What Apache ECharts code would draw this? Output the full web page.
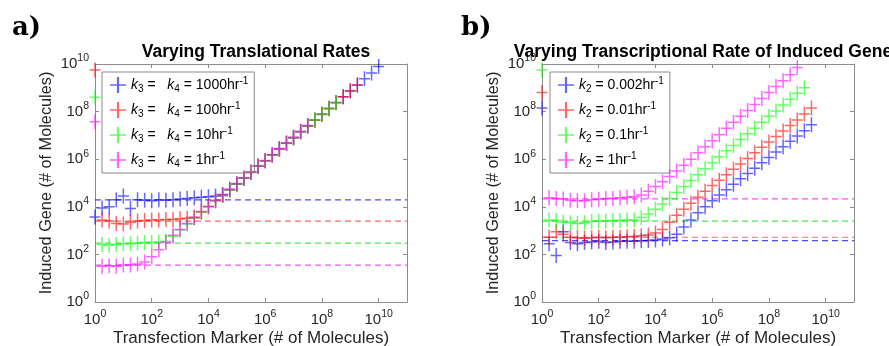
<!DOCTYPE html>
<html>
<head>
<meta charset="utf-8">
<script src="https://cdn.jsdelivr.net/npm/echarts@6/dist/echarts.min.js"></script>
<style>
  html, body { margin: 0; padding: 0; background: #fff; }
  #chart { width: 889px; height: 346px; }
</style>
</head>
<body>
<div id="chart"></div>
<script>
// x bins, log10 of transfection marker (0.25 decade steps)
const xExp = [0, 0.25, 0.5, 0.75, 1, 1.25, 1.5, 1.75, 2, 2.25, 2.5, 2.75, 3, 3.25, 3.5, 3.75, 4, 4.25, 4.5, 4.75,
  5, 5.25, 5.5, 5.75, 6, 6.25, 6.5, 6.75, 7, 7.25, 7.5, 7.75, 8, 8.25, 8.5, 8.75, 9, 9.25, 9.5, 9.75, 10, 10.25]

// panel a) log10 of induced gene, one value per x bin
const aBlue = [3.57, 3.95, 4.0, 4.3, 4.45, 3.93, 4.3, 4.28, 4.25, 4.3, 4.28, 4.3, 4.33, 4.35, 4.38, 4.4, 4.42, 4.45, 4.52, 4.72,
  4.95, 5.2, 5.45, 5.7, 5.94, 6.18, 6.43, 6.67, 6.9, 7.15, 7.4, 7.65, 7.9, 8.14, 8.38, 8.62, 8.87, 9.12, 9.38, 9.62, 9.9]
const aRed = [9.75, 3.45, 3.4, 3.3, 3.28, 3.35, 3.4, 3.42, 3.45, 3.45, 3.47, 3.47, 3.5, 3.52, 3.56, 3.78, 4.0, 4.25, 4.48, 4.72,
  4.96, 5.2, 5.45, 5.7, 5.94, 6.18, 6.42, 6.67, 6.9, 7.15, 7.4, 7.64, 7.88, 8.12, 8.37, 8.62, 8.88, 9.12]
const aGreen = [8.6, 2.42, 2.38, 2.42, 2.45, 2.45, 2.48, 2.5, 2.5, 2.52, 2.55, 2.75, 3.02, 3.28, 3.52, 3.78, 4.0, 4.25, 4.48, 4.72,
  4.95, 5.2, 5.45, 5.7, 5.93, 6.18, 6.42, 6.66, 6.9, 7.15, 7.4, 7.65, 7.88, 8.12, 8.38]
const aMagenta = [7.57, 1.5, 1.52, 1.5, 1.55, 1.55, 1.6, 1.68, 1.9, 2.2, 2.5, 2.8, 3.05, 3.3, 3.55, 3.8, 4.02, 4.27, 4.5, 4.75,
  4.98, 5.22, 5.47, 5.72, 5.95, 6.2, 6.45, 6.68, 6.93, 7.17, 7.42]
const aBase = [4.29, 3.4, 2.47, 1.55]   // dashed levels, log10

// panel b)
const bBlue = [8.15, 2.45, 1.95, 2.95, 2.5, 2.45, 2.5, 2.52, 2.55, 2.5, 2.52, 2.55, 2.55, 2.55, 2.57, 2.58, 2.6, 2.65, 2.7, 2.85,
  3.15, 3.45, 3.75, 4.0, 4.25, 4.5, 4.72, 4.95, 5.18, 5.4, 5.62, 5.85, 6.07, 6.3, 6.52, 6.75, 6.97, 7.2, 7.45]
const bRed = [8.8, 2.72, 2.95, 2.85, 2.72, 2.7, 2.68, 2.7, 2.72, 2.7, 2.72, 2.72, 2.74, 2.75, 2.78, 2.82, 2.9, 3.05, 3.35, 3.65,
  3.9, 4.15, 4.4, 4.65, 4.9, 5.12, 5.35, 5.58, 5.8, 6.03, 6.27, 6.5, 6.72, 6.95, 7.18, 7.42, 7.65, 7.9, 8.15]
const bGreen = [9.75, 3.45, 3.42, 3.35, 3.33, 3.3, 3.33, 3.38, 3.4, 3.4, 3.42, 3.42, 3.45, 3.45, 3.55, 3.7, 3.9, 4.12, 4.35, 4.6,
  4.85, 5.1, 5.35, 5.6, 5.85, 6.1, 6.35, 6.58, 6.83, 7.07, 7.3, 7.55, 7.8, 8.03, 8.28, 8.52, 8.77, 9.0]
const bMagenta = [null, 4.38, 4.35, 4.33, 4.28, 4.25, 4.25, 4.3, 4.32, 4.35, 4.35, 4.38, 4.4, 4.42, 4.5, 4.65, 4.85, 5.05, 5.27, 5.5,
  5.75, 6.0, 6.27, 6.52, 6.78, 7.03, 7.3, 7.55, 7.8, 8.05, 8.3, 8.55, 8.8, 9.05, 9.3, 9.55, 9.85]
const bBase = [2.58, 2.72, 3.4, 4.33]

const namesA = ['k3 = k4 = 1000hr-1', 'k3 = k4 = 100hr-1', 'k3 = k4 = 10hr-1', 'k3 = k4 = 1hr-1']
const namesB = ['k2 = 0.002hr-1', 'k2 = 0.01hr-1', 'k2 = 0.1hr-1', 'k2 = 1hr-1']
const richA = ['1000', '100', '10', '1'].map(r => '{i|k}{sb|3} =   {i|k}{sb|4} = ' + r + 'hr{sp|-1}')
const richB = ['0.002', '0.01', '0.1', '1'].map(r => '{i|k}{sb|2} = ' + r + 'hr{sp|-1}')

const colors = ['#0000ff', '#ff0000', '#00ff00', '#ff00ff']
const dashColors = ['rgba(0,0,255,0.7)', 'rgba(255,0,0,0.6)', 'rgba(0,220,0,0.7)', 'rgba(255,0,255,0.7)']
const plus = 'path://M0,4.5h10v1h-10z M4.32,0h1.36v10h-1.36z'
const font = '"Liberation Sans", Arial, sans-serif'
const axisGray = '#8c8c8c'

let chartInstance = echarts.init(document.getElementById('chart'))

const toPts = (ys) => ys.map((y, i) => y == null ? null : [xExp[i], y]).filter(p => p)

const powLabel = (v, maxV) => v === maxV ? '' : '{b|10}{p|' + v + '}'
const labelRich = {
    b: { fontSize: 15, color: '#262626', fontFamily: font, lineHeight: 22 },
    p: { fontSize: 10.5, color: '#262626', fontFamily: font, verticalAlign: 'top', lineHeight: 22 }
}

const makeX = (gi, bottom) => ({
    type: 'value', gridIndex: gi, min: 0, max: 11, interval: 2,
    position: bottom ? 'bottom' : 'top',
    name: bottom ? 'Transfection Marker (# of Molecules)' : '',
    nameLocation: 'middle', nameGap: 28, nameMoveOverlap: false,
    nameTextStyle: { fontSize: 17, color: '#262626', fontFamily: font },
    axisLine: { show: true, onZero: false, lineStyle: { color: axisGray } },
    axisTick: { inside: true, length: 4, lineStyle: { color: axisGray } },
    axisLabel: { show: bottom, margin: 7, formatter: v => powLabel(v, 11), rich: labelRich },
    splitLine: { show: false }
})
const makeY = (gi, left) => ({
    type: 'value', gridIndex: gi, min: 0, max: 10, interval: 2,
    position: left ? 'left' : 'right',
    name: left ? 'Induced Gene (# of Molecules)' : '',
    nameLocation: 'middle', nameGap: 40,
    nameTextStyle: { fontSize: 16.3, color: '#262626', fontFamily: font },
    axisLine: { show: true, onZero: false, lineStyle: { color: axisGray } },
    axisTick: { inside: true, length: 4, lineStyle: { color: axisGray } },
    axisLabel: { show: left, margin: 6, formatter: v => powLabel(v, 99), rich: labelRich },
    splitLine: { show: false }
})

const seriesArr = []
const addPanel = (gi, names, data, base) => {
    data.forEach((ys, k) => {
        seriesArr.push({
            name: names[k], type: 'scatter', xAxisIndex: gi, yAxisIndex: gi,
            symbol: plus, symbolSize: [11, 15],
            itemStyle: { color: colors[k], opacity: 0.6 },
            data: toPts(ys), z: 3 + k
        })
    })
    base.forEach((b, k) => {
        seriesArr.push({
            type: 'line', xAxisIndex: gi, yAxisIndex: gi, symbol: 'none', silent: true,
            lineStyle: { color: dashColors[k], width: 1.2, type: [6, 4] },
            data: [[0, b], [11, b]], z: 2
        })
    })
}
addPanel(0, namesA, [aBlue, aRed, aGreen, aMagenta], aBase)
addPanel(1, namesB, [bBlue, bRed, bGreen, bMagenta], bBase)

const legendText = {
    fontSize: 14, color: '#000', fontFamily: font, lineHeight: 18,
    rich: {
        i: { fontStyle: 'italic', fontSize: 14, fontFamily: font, lineHeight: 18 },
        sb: { fontSize: 10, fontFamily: font, verticalAlign: 'bottom', lineHeight: 18 },
        sp: { fontSize: 10, fontFamily: font, verticalAlign: 'top', lineHeight: 18 }
    }
}
const makeLegend = (left, names, rich) => ({
    left: left, top: 72, orient: 'vertical',
    data: names.map(n => ({ name: n, icon: plus })),
    itemWidth: 16, itemHeight: 16, itemGap: 7,
    backgroundColor: '#fff', borderColor: '#888', borderWidth: 1,
    padding: [4, 6, 4, 8],
    formatter: n => rich[names.indexOf(n)],
    textStyle: legendText
})

const option = {
    backgroundColor: '#fff',
    animation: false,
    title: [
        { text: 'Varying Translational Rates', left: 251, top: 38, textAlign: 'center',
          textStyle: { fontSize: 17.5, fontWeight: 'bold', color: '#000', fontFamily: font } },
        { text: 'Varying Transcriptional Rate of Induced Gene', left: 698, top: 38, textAlign: 'center',
          textStyle: { fontSize: 17.5, fontWeight: 'bold', color: '#000', fontFamily: font } }
    ],
    graphic: [
        { type: 'text', left: 12, top: 15, style: { text: 'a)', font: 'bold 26px "DejaVu Serif"', fill: '#000' } },
        { type: 'text', left: 461, top: 15, style: { text: 'b)', font: 'bold 26px "DejaVu Serif"', fill: '#000' } }
    ],
    grid: [
        { left: 95, top: 64, width: 312, height: 238, outerBoundsMode: 'none' },
        { left: 542, top: 64, width: 312, height: 238, outerBoundsMode: 'none' }
    ],
    xAxis: [makeX(0, true), makeX(1, true), makeX(0, false), makeX(1, false)],
    yAxis: [makeY(0, true), makeY(1, true), makeY(0, false), makeY(1, false)],
    legend: [makeLegend(102, namesA, richA), makeLegend(550, namesB, richB)],
    series: seriesArr
}
chartInstance.setOption(option)
</script>
</body>
</html>
